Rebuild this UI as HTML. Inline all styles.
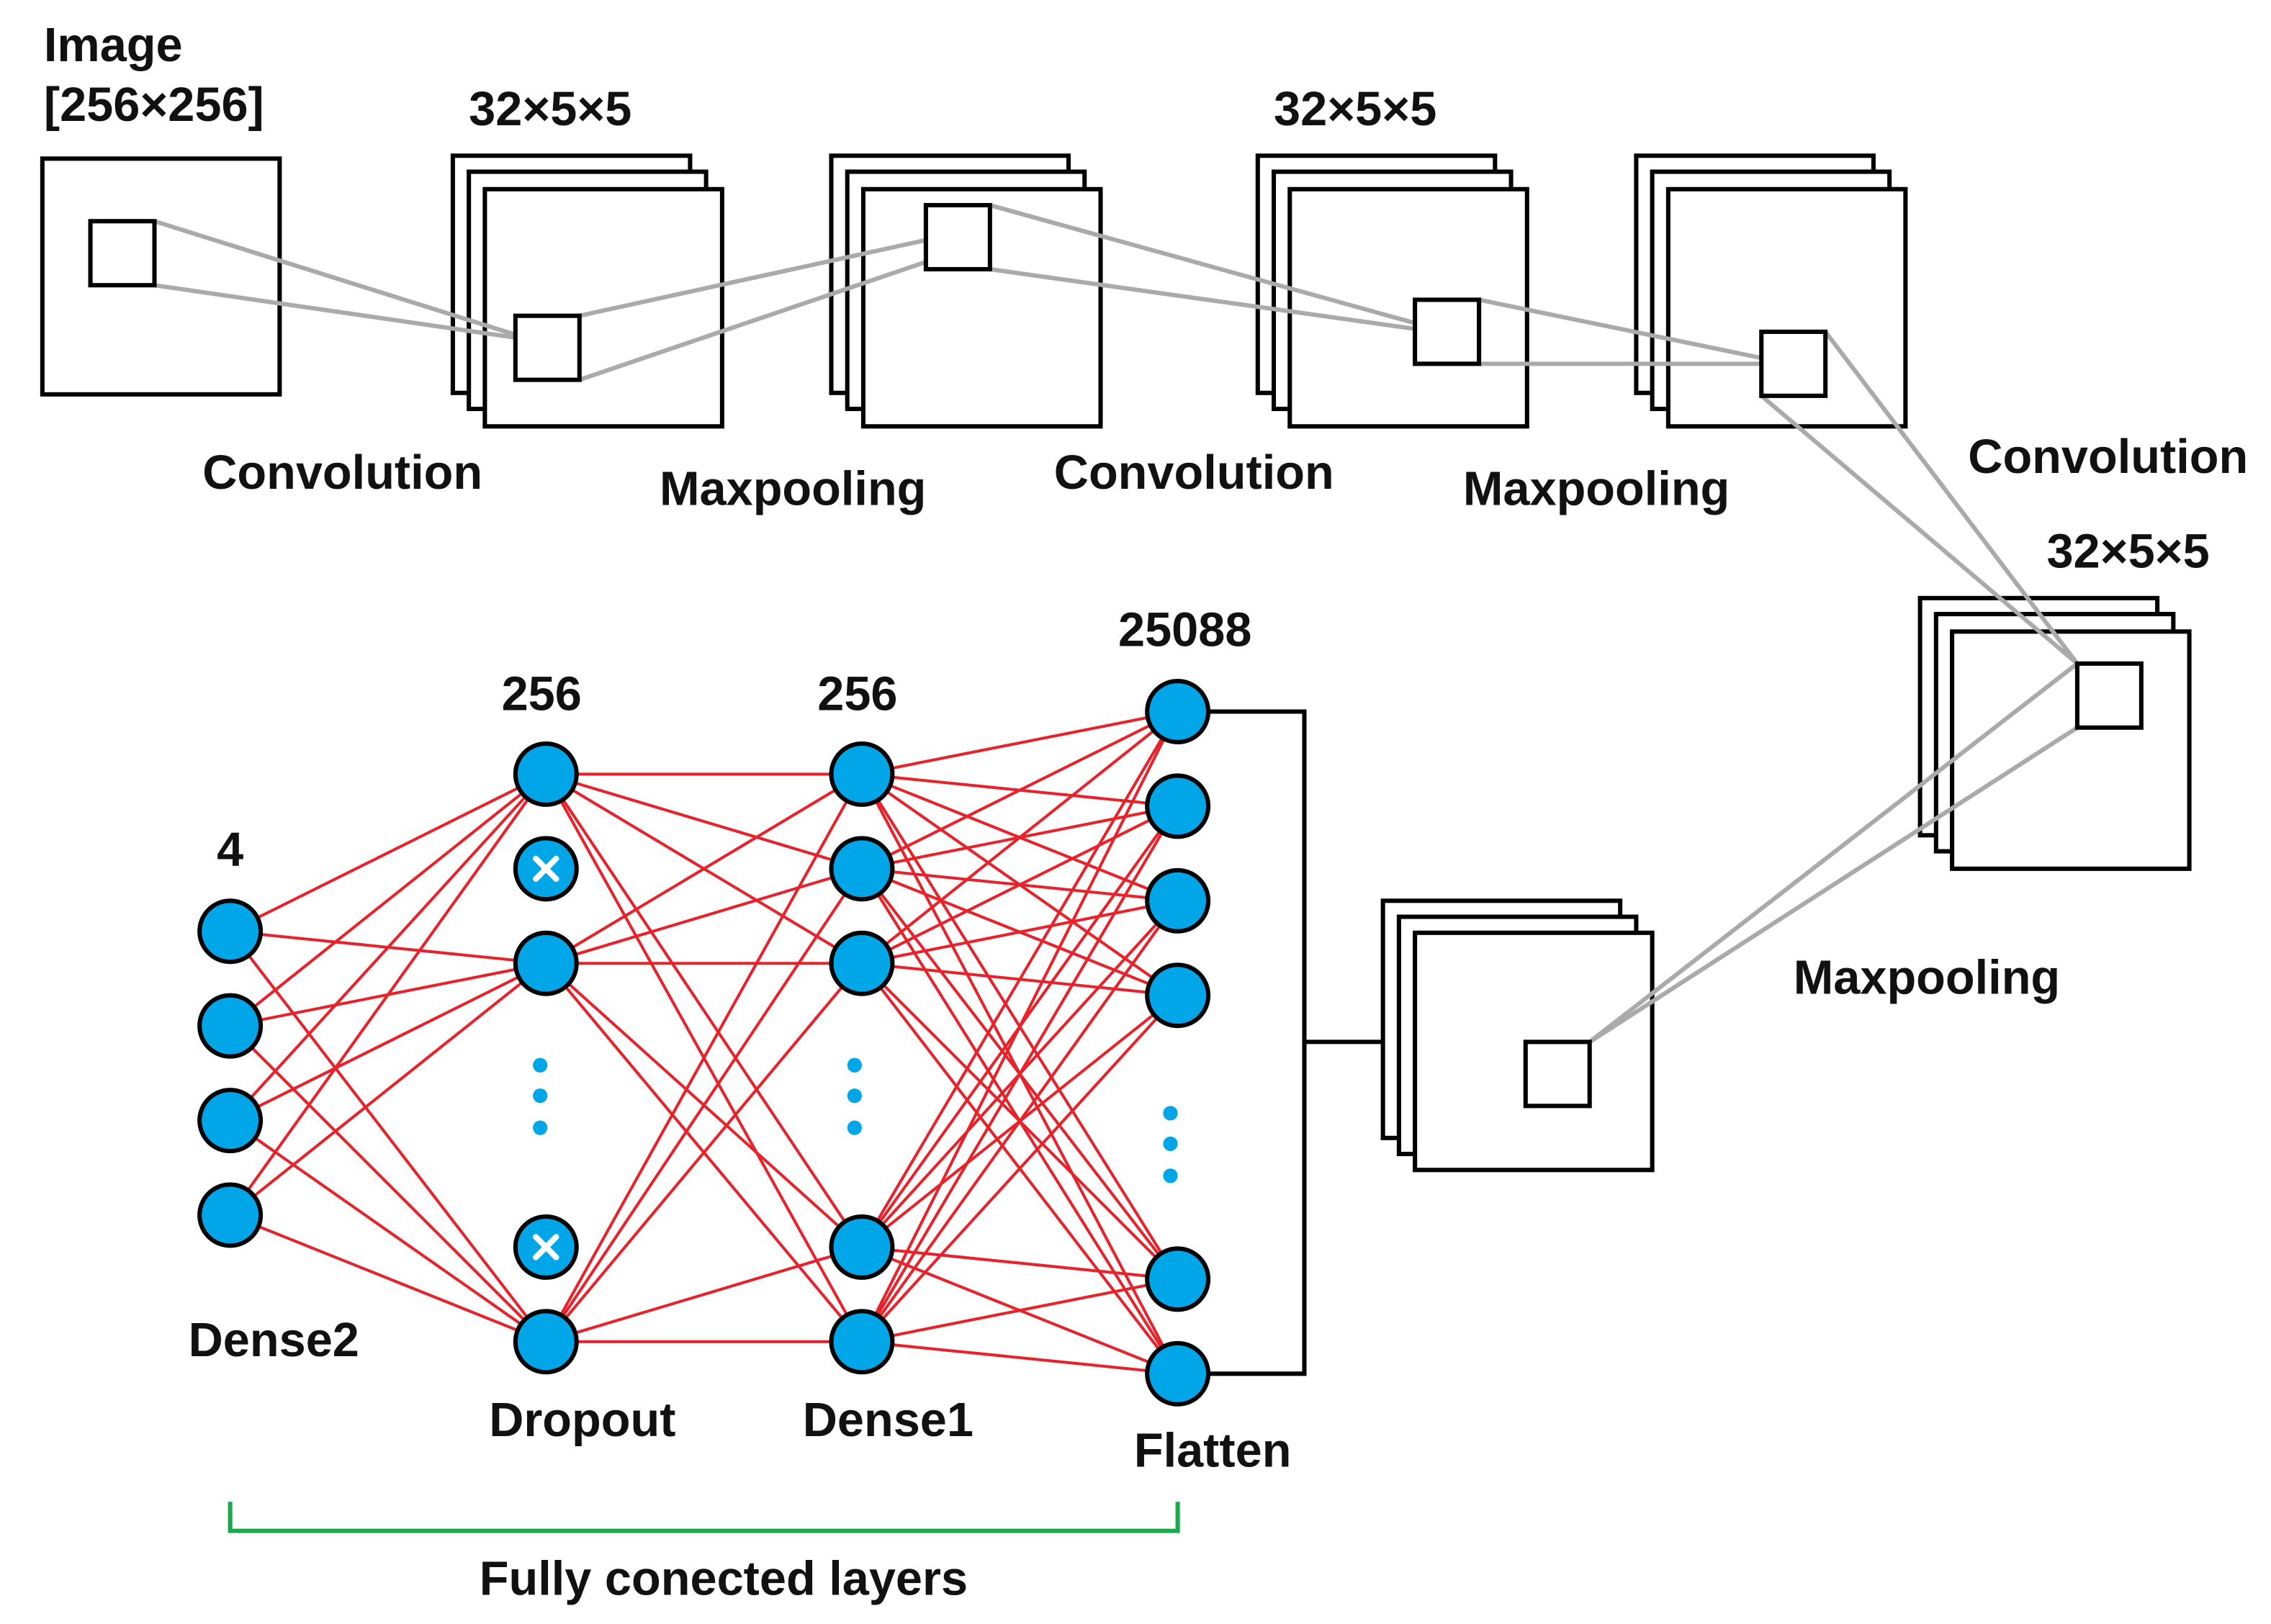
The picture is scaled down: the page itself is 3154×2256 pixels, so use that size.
<!DOCTYPE html>
<html><head><meta charset="utf-8"><style>html,body{margin:0;padding:0;background:#fff}svg{display:block}</style></head>
<body>
<svg width="3154" height="2256" viewBox="0 0 1560 1116" xmlns="http://www.w3.org/2000/svg" font-family="Liberation Sans, Arial, sans-serif" font-weight="bold" font-size="33">
<rect width="1560" height="1116" fill="#fff"/>
<g fill="#fff" stroke="#000" stroke-width="3">
<rect x="29" y="109" width="163" height="162"/>
<rect x="311" y="107" width="163" height="163"/><rect x="322" y="118" width="163" height="163"/><rect x="333" y="130" width="163" height="163"/>
<rect x="571" y="107" width="163" height="163"/><rect x="582" y="118" width="163" height="163"/><rect x="593" y="130" width="163" height="163"/>
<rect x="864" y="107" width="163" height="163"/><rect x="875" y="118" width="163" height="163"/><rect x="886" y="130" width="163" height="163"/>
<rect x="1124" y="107" width="163" height="163"/><rect x="1135" y="118" width="163" height="163"/><rect x="1146" y="130" width="163" height="163"/>
<rect x="1319" y="411" width="163" height="163"/><rect x="1330" y="422" width="163" height="163"/><rect x="1341" y="434" width="163" height="163"/>
<rect x="950" y="619" width="163" height="163"/><rect x="961" y="630" width="163" height="163"/><rect x="972" y="641" width="163" height="163"/>
</g>
<g stroke="#aaa" stroke-width="3" fill="none">
<line x1="106" y1="152" x2="354" y2="230"/><line x1="106" y1="196" x2="354" y2="232"/>
<line x1="398" y1="217" x2="636" y2="165"/><line x1="398" y1="261" x2="636" y2="180"/>
<line x1="680" y1="141" x2="972" y2="222"/><line x1="680" y1="185" x2="972" y2="226"/>
<line x1="1016" y1="206" x2="1210" y2="246"/><line x1="1016" y1="250" x2="1210" y2="250"/>
<line x1="1254" y1="228" x2="1427" y2="456"/><line x1="1210" y1="272" x2="1427" y2="456"/>
<line x1="1427" y1="456" x2="1092" y2="716"/><line x1="1427" y1="500" x2="1092" y2="716"/>
</g>
<g fill="#fff" stroke="#000" stroke-width="3">
<rect x="62" y="152" width="44" height="44"/><rect x="354" y="217" width="44" height="44"/>
<rect x="636" y="141" width="44" height="44"/><rect x="972" y="206" width="44" height="44"/>
<rect x="1210" y="228" width="44" height="44"/><rect x="1427" y="456" width="44" height="44"/>
<rect x="1048" y="716" width="44" height="44"/>
</g>
<g stroke="#e8222a" stroke-width="2">
<line x1="158" y1="640" x2="375" y2="532"/><line x1="158" y1="640" x2="375" y2="662"/><line x1="158" y1="640" x2="375" y2="922"/>
<line x1="158" y1="705" x2="375" y2="532"/><line x1="158" y1="705" x2="375" y2="662"/><line x1="158" y1="705" x2="375" y2="922"/>
<line x1="158" y1="770" x2="375" y2="532"/><line x1="158" y1="770" x2="375" y2="662"/><line x1="158" y1="770" x2="375" y2="922"/>
<line x1="158" y1="835" x2="375" y2="532"/><line x1="158" y1="835" x2="375" y2="662"/><line x1="158" y1="835" x2="375" y2="922"/>
<line x1="375" y1="532" x2="592" y2="532"/><line x1="375" y1="532" x2="592" y2="597"/><line x1="375" y1="532" x2="592" y2="662"/><line x1="375" y1="532" x2="592" y2="857"/><line x1="375" y1="532" x2="592" y2="922"/>
<line x1="375" y1="662" x2="592" y2="532"/><line x1="375" y1="662" x2="592" y2="597"/><line x1="375" y1="662" x2="592" y2="662"/><line x1="375" y1="662" x2="592" y2="857"/><line x1="375" y1="662" x2="592" y2="922"/>
<line x1="375" y1="922" x2="592" y2="532"/><line x1="375" y1="922" x2="592" y2="597"/><line x1="375" y1="922" x2="592" y2="662"/><line x1="375" y1="922" x2="592" y2="857"/><line x1="375" y1="922" x2="592" y2="922"/>
</g>
<g stroke="#e8222a" stroke-width="2" id="d1f"></g>
<script>
var g=document.getElementById('d1f');var a=[532,597,662,857,922],b=[489,554,619,684,879,944];
a.forEach(function(y1){b.forEach(function(y2){var l=document.createElementNS('http://www.w3.org/2000/svg','line');l.setAttribute('x1',592);l.setAttribute('y1',y1);l.setAttribute('x2',809);l.setAttribute('y2',y2);g.appendChild(l);});});
</script>
<g fill="#00a6e8" stroke="#000" stroke-width="3">
<circle cx="158" cy="640" r="21"/><circle cx="158" cy="705" r="21"/><circle cx="158" cy="770" r="21"/><circle cx="158" cy="835" r="21"/>
<circle cx="375" cy="532" r="21"/><circle cx="375" cy="597" r="21"/><circle cx="375" cy="662" r="21"/><circle cx="375" cy="857" r="21"/><circle cx="375" cy="922" r="21"/>
<circle cx="592" cy="532" r="21"/><circle cx="592" cy="597" r="21"/><circle cx="592" cy="662" r="21"/><circle cx="592" cy="857" r="21"/><circle cx="592" cy="922" r="21"/>
<circle cx="809" cy="489" r="21"/><circle cx="809" cy="554" r="21"/><circle cx="809" cy="619" r="21"/><circle cx="809" cy="684" r="21"/><circle cx="809" cy="879" r="21"/><circle cx="809" cy="944" r="21"/>
</g>
<g stroke="#fff" stroke-width="4" stroke-linecap="round">
<line x1="368" y1="590" x2="382" y2="604"/><line x1="382" y1="590" x2="368" y2="604"/>
<line x1="368" y1="850" x2="382" y2="864"/><line x1="382" y1="850" x2="368" y2="864"/>
</g>
<g fill="#00a6e8">
<circle cx="371" cy="732" r="5"/><circle cx="371" cy="753" r="5"/><circle cx="371" cy="775" r="5"/>
<circle cx="587" cy="732" r="5"/><circle cx="587" cy="753" r="5"/><circle cx="587" cy="775" r="5"/>
<circle cx="804" cy="765" r="5"/><circle cx="804" cy="786" r="5"/><circle cx="804" cy="808" r="5"/>
</g>
<polyline points="831,489 896,489 896,944 831,944" fill="none" stroke="#000" stroke-width="3"/>
<line x1="896" y1="716" x2="950" y2="716" stroke="#000" stroke-width="3"/>
<polyline points="158,1032 158,1052 809,1052 809,1032" fill="none" stroke="#1aaa4a" stroke-width="3"/>
<g fill="#111">
<text x="30" y="42">Image</text><text x="30" y="83">[256×256]</text>
<text x="322" y="86">32×5×5</text><text x="875" y="86">32×5×5</text><text x="1406" y="390">32×5×5</text>
<text x="139" y="336">Convolution</text><text x="453" y="347">Maxpooling</text>
<text x="724" y="336">Convolution</text><text x="1005" y="347">Maxpooling</text>
<text x="1352" y="325">Convolution</text><text x="1232" y="683">Maxpooling</text>
<text x="158" y="595" text-anchor="middle">4</text><text x="372" y="488" text-anchor="middle">256</text>
<text x="589" y="488" text-anchor="middle">256</text><text x="814" y="444" text-anchor="middle">25088</text>
<text x="188" y="932" text-anchor="middle">Dense2</text><text x="400" y="987" text-anchor="middle">Dropout</text>
<text x="610" y="987" text-anchor="middle">Dense1</text><text x="833" y="1008" text-anchor="middle">Flatten</text>
<text x="497" y="1096" text-anchor="middle">Fully conected layers</text>
</g>
</svg>
</body></html>
